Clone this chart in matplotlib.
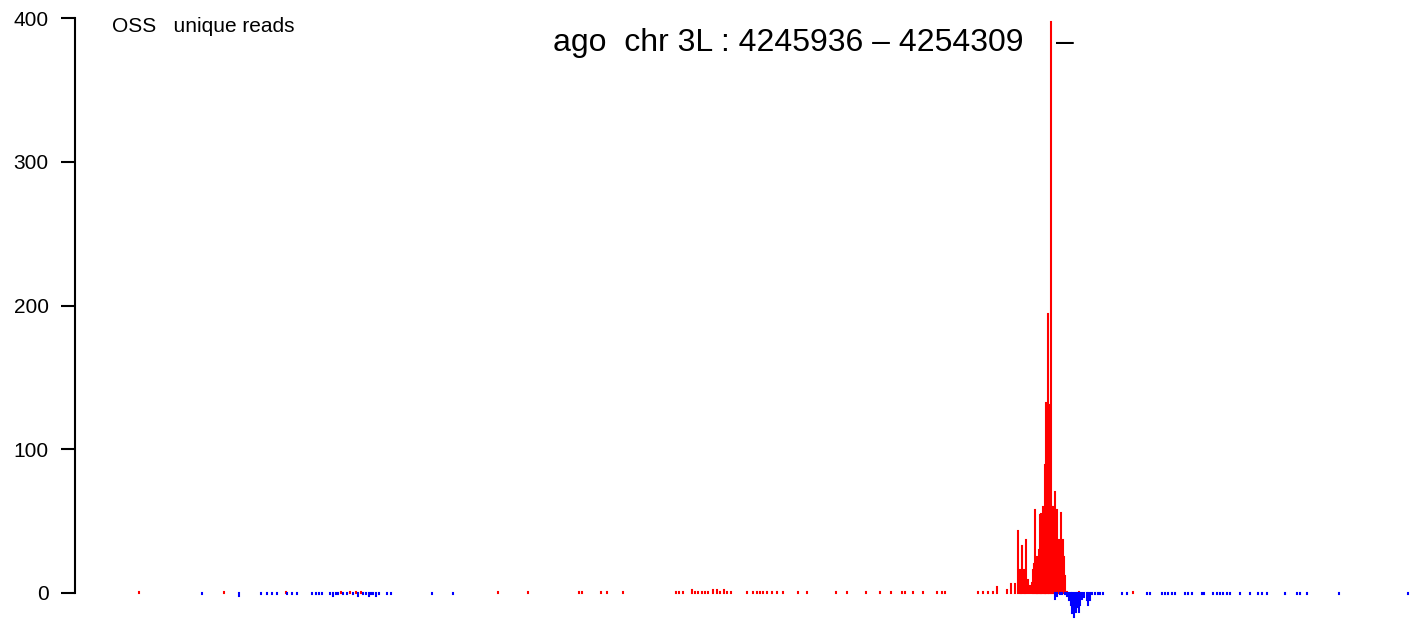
import matplotlib
matplotlib.use("Agg")
import matplotlib.pyplot as plt
import numpy as np

plt.rcParams['font.family'] = ['Liberation Sans', 'DejaVu Sans']

start, end = 4245936, 4254309

# sense (red) reads: offset from start (bp), count
red_pos = [81, 638, 1041, 1401, 1461, 1501, 1531, 2426, 2622, 2956, 2977, 3101, 3138, 3243,
           3589, 3611, 3635, 3694, 3715, 3737, 3759, 3781, 3802, 3835, 3857, 3879, 3905, 3926, 3949,
           4057, 4096, 4118, 4140, 4162, 4184, 4216, 4249, 4288, 4390, 4449, 4637, 4706, 4833,
           4924, 4994, 5066, 5087, 5142, 5203, 5294, 5327, 5349, 5566, 5599, 5632, 5660, 5686,
           5756, 5780, 5804, 5825, 5839, 5845, 5854, 5865, 5871, 5880, 5891, 5904, 5917, 5925,
           5930, 5937, 5943, 5948, 5953, 5958, 5963, 5969, 5974, 5978, 5982, 5987, 5993, 6000,
           6004, 6008, 6012, 6019, 6025, 6030, 6035, 6041, 6048, 6056, 6061, 6065, 6069, 6074,
           6082, 6089, 6095, 6102, 6108, 6118, 6126, 6132, 6143, 6224, 6575]
red_cnt = [1, 1, 1, 1, 1, 1, 1, 1, 1, 1, 1, 1, 1, 1,
           1, 1, 1, 2, 1, 1, 1, 1, 1, 2, 2, 1, 2, 1, 1,
           1, 1, 1, 1, 1, 1, 1, 1, 1, 1, 1, 1, 1, 1,
           1, 1, 1, 1, 1, 1, 1, 1, 1, 1, 1, 1, 1, 4,
           2, 6, 6, 43, 16, 10, 33, 16, 12, 37, 9, 5, 7, 16,
           20, 58, 22, 18, 25, 19, 30, 54, 28, 55, 35, 60, 44, 48,
           89, 82, 132, 194, 120, 131, 100, 397, 60, 60, 45, 70, 35, 40,
           58, 30, 37, 25, 56, 37, 25, 12, 1, 1, 1]

# antisense (blue) reads: offset from start (bp), count (negative)
blue_pos = [497, 734, 880, 917, 950, 986, 1050, 1084, 1117, 1215, 1239, 1261, 1280,
            1331, 1352, 1370, 1385, 1418, 1440, 1483, 1516, 1548, 1566, 1584, 1601, 1614,
            1631, 1651, 1703, 1727, 1999, 2136,
            6067, 6082, 6100, 6115, 6132, 6146, 6159, 6170, 6180, 6193, 6202, 6213, 6224,
            6232, 6245, 6259, 6274, 6285, 6296, 6312, 6329, 6346, 6361, 6383, 6503, 6536,
            6666, 6688, 6764, 6786, 6807, 6830, 6851, 6917, 6938, 6960, 7026, 7041, 7101,
            7124, 7145, 7167, 7189, 7211, 7276, 7341, 7395, 7418, 7450, 7570, 7646, 7668,
            7716, 7925, 8375]
blue_cnt = [-1, -2, -1, -1, -1, -1, -1, -1, -1, -1, -1, -1, -1,
            -1, -2, -1, -1, -1, -1, -1, -2, -1, -1, -2, -1, -1,
            -2, -1, -1, -1, -1, -1,
            -4, -2, -1, -1, -1, -2, -5, -8, -14, -17, -13, -10, -13,
            -8, -4, -3, -5, -8, -5, -1, -1, -1, -1, -1, -1, -1,
            -1, -1, -1, -1, -1, -1, -1, -1, -1, -1, -1, -1, -1,
            -1, -1, -1, -1, -1, -1, -1, -1, -1, -1, -1, -1, -1,
            -1, -1, -1]

yticks = [0, 100, 200, 300, 400]

fig = plt.figure(figsize=(14.14, 6.23), dpi=100)
ax = fig.add_axes([75 / 1414, 1.25 / 623, 1339 / 1414, 618.125 / 623])

rx = start + np.array(red_pos)
bx = start + np.array(blue_pos)
ax.vlines(rx, 0, red_cnt, color='red', linewidth=1.5, capstyle='projecting', clip_on=False)
ax.vlines(bx, 0, blue_cnt, color='blue', linewidth=1.5, capstyle='projecting', clip_on=False)

ax.set_xlim(start - 335, start + 8413)
ax.set_ylim(-20, 410)
ax.set_yticks(yticks)
ax.tick_params(axis='y', length=10, width=1.5, pad=9, labelsize=15)
for lab in ax.get_yticklabels():
    lab.set_verticalalignment('center_baseline')
ax.set_xticks([])
for s in ['top', 'right', 'bottom']:
    ax.spines[s].set_visible(False)
ax.spines['left'].set_bounds(0, 400)
ax.spines['left'].set_linewidth(1.5)

fig.text(112 / 1414, (623 - 32) / 623, 'OSS   unique reads', fontsize=15, va='baseline')
fig.text(553 / 1414, (623 - 51) / 623, 'ago  chr 3L : %d \u2013 %d' % (start, end),
         fontsize=23, va='baseline')
fig.text(1056 / 1414, (623 - 51) / 623, '\u2013', fontsize=23, va='baseline')

fig.savefig('out.png', dpi=100)
